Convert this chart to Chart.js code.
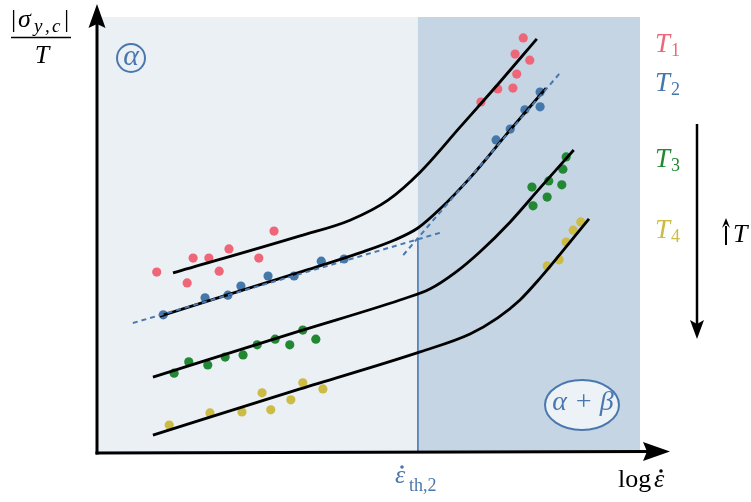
<!DOCTYPE html>
<html>
<head>
<meta charset="utf-8">
<script src="https://cdn.jsdelivr.net/npm/chart.js@4.4.1/dist/chart.umd.min.js"></script>
<style>
html,body{margin:0;padding:0;background:#fff;}
canvas{display:block;}
</style>
</head>
<body>
<canvas id="c" width="751" height="502"></canvas>
<script>
// ---- data (arbitrary units: x = log strain rate, y = |sigma|/T) ----
const threshold = 5.91;          // strain-rate threshold eps_th,2
const thresholdTop = 4.91;       // where the two dashed fits meet

const t1Points = [[1.10,4.15],[1.66,3.90],[1.77,4.47],[2.06,4.47],[2.25,4.17],[2.43,4.68],[2.98,4.47],[3.26,5.09],
  [7.85,9.52],[7.70,9.15],[7.97,9.01],[7.73,8.69],[7.38,8.35],[7.66,8.37],[7.07,8.05]];
const t2Points = [[1.22,3.17],[1.99,3.56],[2.41,3.62],[2.65,3.83],[3.15,4.06],[3.63,4.06],[4.13,4.40],[4.55,4.45],
  [7.35,7.18],[7.61,7.43],[7.88,7.87],[8.16,7.94],[8.16,8.28]];
const t3Points = [[1.42,1.83],[1.69,2.09],[2.04,2.02],[2.36,2.20],[2.69,2.25],[2.95,2.48],[3.28,2.61],[3.55,2.48],[3.79,2.82],[4.03,2.61],
  [8.64,6.79],[8.58,6.51],[8.32,6.24],[8.01,6.10],[8.56,6.15],[8.29,5.87],[8.03,5.67]];
const t4Points = [[1.33,0.64],[2.08,0.92],[2.67,0.94],[3.04,1.38],[3.20,0.99],[3.57,1.22],[3.79,1.61],[4.16,1.47],
  [8.91,5.30],[8.77,5.11],[8.64,4.84],[8.51,4.43],[8.29,4.29]];

const t1Curve = [[1.40,4.13],[3.74,4.98],[4.66,5.34],[5.36,5.80],[5.95,6.44],[6.69,7.48],[7.42,8.51],[8.10,9.50]];
const t2Curve = [[1.16,3.14],[3.74,4.15],[4.84,4.59],[5.49,4.89],[5.91,5.16],[6.32,5.60],[6.87,6.31],[7.61,7.41],[8.27,8.37]];
const t3Curve = [[1.03,1.74],[3.74,2.80],[5.58,3.51],[6.13,3.76],[6.59,4.13],[7.05,4.61],[7.61,5.30],[8.16,6.08],[8.78,6.95]];
const t4Curve = [[1.03,0.41],[3.74,1.47],[5.95,2.32],[6.87,2.73],[7.38,3.10],[7.79,3.51],[8.16,4.01],[8.53,4.56],[9.06,5.37]];

const fitLow  = [[0.66,2.98],[6.37,5.07]];
const fitHigh = [[5.64,4.54],[8.53,8.72]];

const seriesLabels = ['1','2','3','4'];
const seriesColors = ['#ee6677','#4477aa','#228833','#ccbb44'];
const accent = '#4a78ae';

const toXY = a => a.map(p => ({x:p[0], y:p[1]}));

function pts(data, color){
  return {type:'scatter', data:toXY(data), showLine:false, pointRadius:4.6, pointHoverRadius:4.6,
    pointBackgroundColor:color, pointBorderWidth:0, order:3};
}
function curve(data){
  return {type:'scatter', data:toXY(data), showLine:true, pointRadius:0, borderColor:'#000', borderWidth:2.8,
    cubicInterpolationMode:'monotone', fill:false, order:2};
}
function dashed(data){
  return {type:'scatter', data:toXY(data), showLine:true, pointRadius:0, borderColor:accent, borderWidth:2,
    borderDash:[5,4], fill:false, order:1};
}

function textSub(ctx, x, y, main, mainFont, sub, subFont, color, subDy){
  ctx.fillStyle = color;
  ctx.font = mainFont; ctx.textAlign='left'; ctx.textBaseline='alphabetic';
  ctx.fillText(main, x, y);
  const w = ctx.measureText(main).width;
  ctx.font = subFont;
  ctx.fillText(sub, x + w + 1, y + subDy);
}
function arrowHead(ctx, tx, ty, dir, len, half){
  ctx.beginPath();
  if(dir==='up'){ ctx.moveTo(tx,ty); ctx.lineTo(tx-half,ty+len); ctx.lineTo(tx,ty+len-4); ctx.lineTo(tx+half,ty+len); }
  else if(dir==='down'){ ctx.moveTo(tx,ty); ctx.lineTo(tx-half,ty-len); ctx.lineTo(tx,ty-len+4); ctx.lineTo(tx+half,ty-len); }
  else { ctx.moveTo(tx,ty); ctx.lineTo(tx-len,ty-half); ctx.lineTo(tx-len+4,ty); ctx.lineTo(tx-len,ty+half); }
  ctx.closePath(); ctx.fill();
}

const decor = {
  id:'decor',
  beforeDatasetsDraw(chart){
    const {ctx, chartArea:a, scales:{x,y}} = chart;
    ctx.save();
    ctx.fillStyle='#fff'; ctx.fillRect(0,0,chart.width,chart.height);
    const xt = x.getPixelForValue(threshold);
    ctx.fillStyle='#ebf0f5'; ctx.fillRect(a.left, a.top, xt-a.left, a.bottom-a.top);
    ctx.fillStyle='#c5d5e4'; ctx.fillRect(xt, a.top, a.right-xt, a.bottom-a.top);
    ctx.strokeStyle=accent; ctx.lineWidth=1.6;
    ctx.beginPath(); ctx.moveTo(xt, y.getPixelForValue(0)); ctx.lineTo(xt, y.getPixelForValue(thresholdTop)); ctx.stroke();
    ctx.restore();
  },
  afterDatasetsDraw(chart){
    const {ctx, chartArea:a, scales:{x,y}} = chart;
    ctx.save();
    const x0 = x.getPixelForValue(0), y0 = y.getPixelForValue(0);
    // axes
    ctx.strokeStyle='#000'; ctx.fillStyle='#000'; ctx.lineWidth=3;
    ctx.beginPath(); ctx.moveTo(x0, y0+1.5); ctx.lineTo(x0, 20); ctx.stroke();
    arrowHead(ctx, x0, 4, 'up', 24, 8.5);
    ctx.beginPath(); ctx.moveTo(x0-1.5, y0); ctx.lineTo(650, y0-1.5); ctx.stroke();
    arrowHead(ctx, 670, y0-1.5, 'right', 27, 9.5);

    // y label |sigma_{y,c}| / T
    ctx.fillStyle='#000'; ctx.textBaseline='alphabetic'; ctx.textAlign='left';
    ctx.font='26px "Liberation Serif"'; ctx.fillText('|', 11, 27);
    ctx.font='italic 26px "Liberation Serif"'; ctx.fillText('σ', 18, 27);
    ctx.font='italic 19px "Liberation Serif"'; ctx.fillText('y', 34, 32);
    ctx.fillText(',', 45, 32); ctx.fillText('c', 52, 32);
    ctx.font='26px "Liberation Serif"'; ctx.fillText('|', 64, 27);
    ctx.lineWidth=1.4; ctx.beginPath(); ctx.moveTo(11,37.5); ctx.lineTo(71,37.5); ctx.stroke();
    ctx.font='italic 26px "Liberation Serif"'; ctx.textAlign='center'; ctx.fillText('T', 42, 63);

    // alpha circle
    ctx.strokeStyle=accent; ctx.lineWidth=2;
    ctx.beginPath(); ctx.arc(131,58,14,0,Math.PI*2); ctx.stroke();
    ctx.fillStyle=accent; ctx.font='italic 30px "Liberation Serif"'; ctx.textAlign='center'; ctx.textBaseline='middle';
    ctx.fillText('α', 131, 57);

    // alpha+beta ellipse
    ctx.fillStyle='#edf2f7';
    ctx.beginPath(); ctx.ellipse(582,405,37,25,0,0,Math.PI*2); ctx.fill(); ctx.stroke();
    ctx.fillStyle=accent; ctx.font='italic 28px "Liberation Serif"'; ctx.fillText('α + β', 583, 403);

    // threshold label
    ctx.textAlign='left'; ctx.textBaseline='alphabetic';
    ctx.fillStyle=accent; ctx.font='italic 26px "Liberation Serif"';
    ctx.fillText('ε', 395, 483);
    ctx.beginPath(); ctx.arc(402, 467, 1.8, 0, Math.PI*2); ctx.fill();
    ctx.font='18px "Liberation Serif"'; ctx.fillText('th,2', 409, 491);

    // x label log eps-dot
    ctx.fillStyle='#000'; ctx.font='26px "Liberation Serif"'; ctx.fillText('log', 618, 487);
    ctx.font='italic 26px "Liberation Serif"'; ctx.fillText('ε', 654, 487);
    ctx.beginPath(); ctx.arc(661, 471, 1.8, 0, Math.PI*2); ctx.fill();

    // series labels
    const base=[52,91,167,238];
    for(let i=0;i<4;i++){
      textSub(ctx, 655, base[i], 'T', 'italic 27px "Liberation Serif"', seriesLabels[i], '18px "Liberation Serif"', seriesColors[i], 4);
    }

    // temperature arrow
    ctx.strokeStyle='#000'; ctx.fillStyle='#000'; ctx.lineWidth=2.5;
    ctx.beginPath(); ctx.moveTo(697,124); ctx.lineTo(697,325); ctx.stroke();
    arrowHead(ctx, 697, 339, 'down', 19, 7);
    ctx.lineWidth=2;
    ctx.beginPath(); ctx.moveTo(726,245); ctx.lineTo(726,226); ctx.stroke();
    arrowHead(ctx, 726, 218, 'up', 10, 4);
    ctx.font='italic 26px "Liberation Serif"'; ctx.textAlign='left'; ctx.fillText('T', 733, 242);
    ctx.restore();
  }
};

new Chart(document.getElementById('c'), {
  type:'scatter',
  data:{datasets:[
    pts(t1Points, seriesColors[0]), pts(t2Points, seriesColors[1]), pts(t3Points, seriesColors[2]), pts(t4Points, seriesColors[3]),
    curve(t1Curve), curve(t2Curve), curve(t3Curve), curve(t4Curve),
    dashed(fitLow), dashed(fitHigh)
  ]},
  options:{
    responsive:false, animation:false, devicePixelRatio:1,
    layout:{padding:{left:97, right:111, top:17, bottom:49}},
    scales:{
      x:{type:'linear', min:0, max:10, display:false},
      y:{type:'linear', min:0, max:10, display:false}
    },
    plugins:{legend:{display:false}, tooltip:{enabled:false}},
    events:[]
  },
  plugins:[decor]
});
</script>
</body>
</html>
